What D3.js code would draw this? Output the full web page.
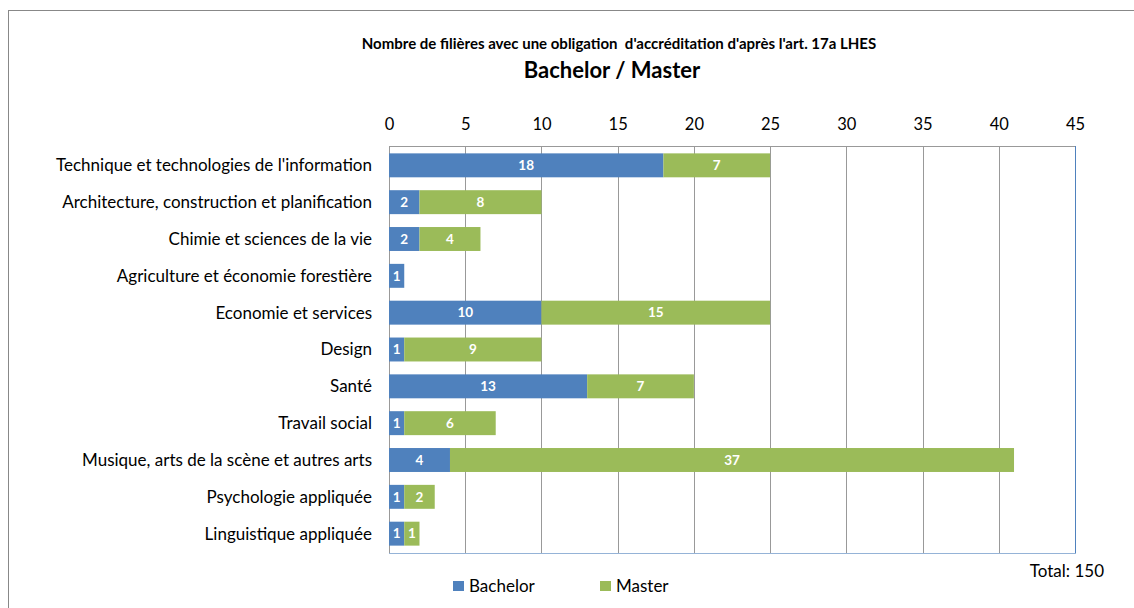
<!DOCTYPE html>
<html><head><meta charset="utf-8">
<script src="https://cdn.jsdelivr.net/npm/d3@7"></script>
<style>body{margin:0;background:#fff;} svg{display:block;}</style>
</head><body>
<script>
const categories = ["Technique et technologies de l'information","Architecture, construction et planification","Chimie et sciences de la vie","Agriculture et économie forestière","Economie et services","Design","Santé","Travail social","Musique, arts de la scène et autres arts","Psychologie appliquée","Linguistique appliquée"];
const bachelor = [18,2,2,1,10,1,13,1,4,1,1];
const master = [7,8,4,0,15,9,7,6,37,2,1];
const seriesNames = ["Bachelor","Master"];
const ticks = [0,5,10,15,20,25,30,35,40,45];
const colors = ["#4f81bd","#9bbb59"];

const W=1134,H=608;
const font="Lato, 'Open Sans', sans-serif";
const svg=d3.select("body").append("svg").attr("width",W).attr("height",H).style("font-family",font);
svg.append("rect").attr("x",8.5).attr("y",10.5).attr("width",W).attr("height",H).attr("fill","#fff").attr("stroke","#888");

const x=d3.scaleLinear().domain([0,45]).range([389,1075]);
const y=d3.scaleBand().domain(categories).range([146,553]).paddingInner(0.35).paddingOuter(0.2);

// gridlines
svg.append("g").selectAll("line").data(ticks.slice(1,-1)).join("line")
  .attr("x1",d=>Math.round(x(d))+0.5).attr("x2",d=>Math.round(x(d))+0.5).attr("y1",146).attr("y2",553)
  .attr("stroke","#999");
// plot border
svg.append("line").attr("x1",389.5).attr("x2",1075.5).attr("y1",146.5).attr("y2",146.5).attr("stroke","#999");
svg.append("line").attr("x1",389.5).attr("x2",389.5).attr("y1",146).attr("y2",553).attr("stroke","#999");
svg.append("line").attr("x1",1075.5).attr("x2",1075.5).attr("y1",146).attr("y2",553).attr("stroke","#4f81bd");
svg.append("line").attr("x1",389).attr("x2",1076).attr("y1",553.5).attr("y2",553.5).attr("stroke","#95b3d7");

// top axis
const ax=svg.append("g").attr("transform","translate(0,130)").call(d3.axisTop(x).tickValues(ticks).tickSize(0).tickPadding(0));
ax.select(".domain").remove();
ax.selectAll("text").attr("font-family",font).attr("font-size",16.5).attr("fill","#000");

// category labels
svg.append("g").selectAll("text").data(categories).join("text")
  .attr("x",372).attr("y",d=>y(d)+y.bandwidth()/2).attr("dy","0.35em").attr("text-anchor","end")
  .attr("font-size",17).text(d=>d);

const rows=categories.map((c,i)=>({c,b:bachelor[i],m:master[i]}));
const stack=d3.stack().keys(["b","m"])(rows);
stack.forEach((s,si)=>{
  const g=svg.append("g");
  g.selectAll("rect").data(s).join("rect")
    .attr("x",d=>x(d[0])).attr("width",d=>x(d[1])-x(d[0]))
    .attr("y",d=>y(d.data.c)).attr("height",y.bandwidth()).attr("fill",colors[si]);
  g.selectAll("text").data(s.filter(d=>d[1]-d[0]>0)).join("text")
    .attr("x",d=>(x(d[0])+x(d[1]))/2).attr("y",d=>y(d.data.c)+y.bandwidth()/2).attr("dy","0.35em")
    .attr("text-anchor","middle").attr("fill","#fff").attr("font-weight","bold").attr("font-size",13.5)
    .text(d=>d[1]-d[0]);
});

// titles
svg.append("text").attr("x",619).attr("y",49).attr("text-anchor","middle").attr("font-weight","bold").attr("font-size",15)
  .text("Nombre de filières avec une obligation  d'accréditation d'après l'art. 17a LHES").style("white-space","pre");
svg.append("text").attr("x",612).attr("y",78).attr("text-anchor","middle").attr("font-weight","bold").attr("font-size",22)
  .text("Bachelor / Master");

// legend
const lx=[453,600];
seriesNames.forEach((n,i)=>{
  svg.append("rect").attr("x",lx[i]).attr("y",581).attr("width",11).attr("height",10).attr("fill",colors[i]);
  svg.append("text").attr("x",lx[i]+16).attr("y",586).attr("dy","0.35em").attr("font-size",17).text(n);
});
const total=d3.sum(bachelor)+d3.sum(master);
svg.append("text").attr("x",1104).attr("y",571).attr("dy","0.35em").attr("text-anchor","end").attr("font-size",17).text("Total: "+total);
</script>
</body></html>
